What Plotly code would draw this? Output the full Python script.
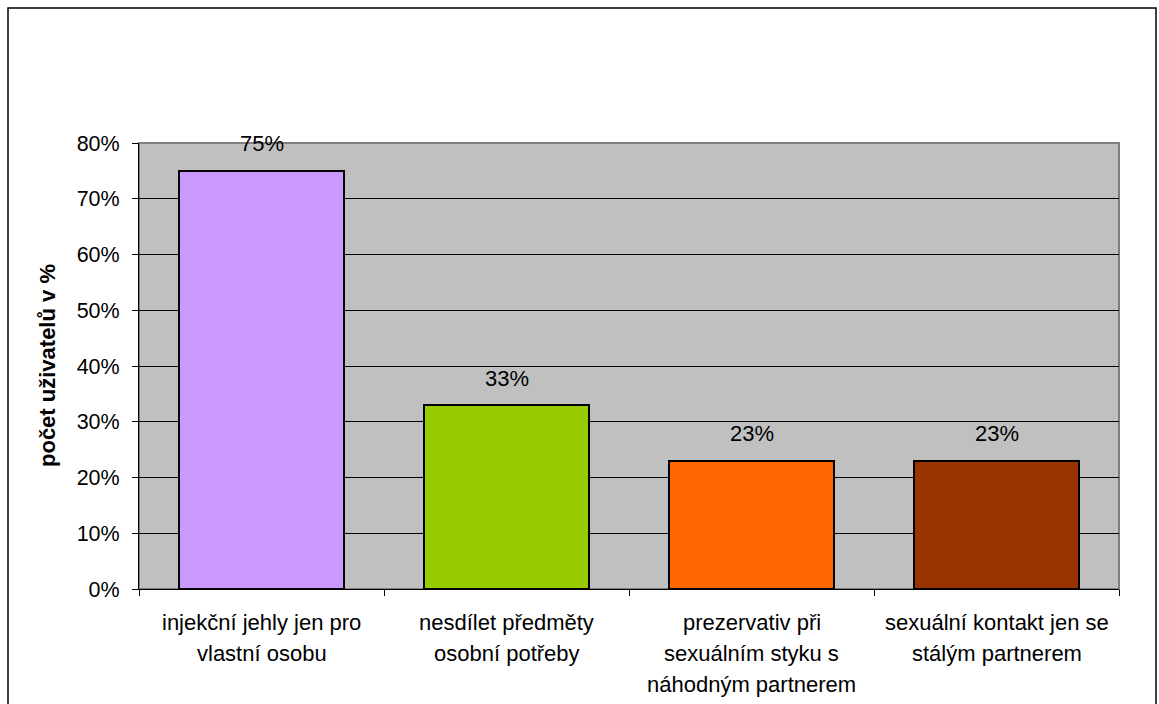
import plotly.graph_objects as go

# Survey results: share of users following each safe practice
categories = [
    "injekční jehly jen pro|vlastní osobu",
    "nesdílet předměty|osobní potřeby",
    "prezervativ při|sexuálním styku s|náhodným partnerem",
    "sexuální kontakt jen se|stálým partnerem",
]
values = [75, 33, 23, 23]
bar_colors = ["#CC99FF", "#99CC00", "#FF6600", "#993300"]
y_ticks = [0, 10, 20, 30, 40, 50, 60, 70, 80]
y_title = "počet uživatelů v %"

W, H = 1159, 704
L, R, T, B = 139, 40, 143, 115
pw, ph = W - L - R, H - T - B
FONT = "Liberation Sans, Arial, sans-serif"
FS = 22

xs = list(range(len(values)))

fig = go.Figure()
fig.add_trace(go.Bar(
    x=xs, y=values, width=0.67,
    marker=dict(color=bar_colors, line=dict(color="black", width=2)),
    hoverinfo="skip",
))

annotations = []
# value labels above bars
for x, v in zip(xs, values):
    annotations.append(dict(
        x=x, y=v, xref="x", yref="y", text=f"{v}%", showarrow=False,
        yanchor="middle", yshift=27, font=dict(family=FONT, size=FS, color="black"),
    ))
# category labels, one line per annotation for wider line spacing
for x, cat in zip(xs, categories):
    for i, line in enumerate(cat.split("|")):
        annotations.append(dict(
            x=x, y=0, xref="x", yref="paper", text=line, showarrow=False,
            yanchor="middle", yshift=-33 - 31 * i,
            font=dict(family=FONT, size=FS, color="black"),
        ))
# rotated axis title
annotations.append(dict(
    x=(47 - L) / pw, y=0.5, xref="paper", yref="paper", text=f"<b>{y_title}</b>",
    textangle=-90, showarrow=False, xanchor="center", yanchor="middle",
    font=dict(family=FONT, size=22, color="black"),
))

shapes = [
    # gray plot-area border
    dict(type="rect", xref="paper", yref="paper", x0=0, y0=0, x1=1, y1=1,
         line=dict(color="#808080", width=2), layer="below"),
    # outer frame around the whole chart
    dict(type="rect", xref="paper", yref="paper",
         x0=(8 - L) / pw, x1=(1156 - L) / pw,
         y0=(H - 720 - B) / ph, y1=(H - 8 - B) / ph,
         line=dict(color="black", width=1.5)),
]

fig.update_layout(
    width=W, height=H,
    margin=dict(l=L, r=R, t=T, b=B, pad=0),
    paper_bgcolor="white", plot_bgcolor="#C0C0C0",
    showlegend=False, bargap=0,
    font=dict(family=FONT, size=FS, color="black"),
    annotations=annotations, shapes=shapes,
    xaxis=dict(
        range=[-0.5, len(values) - 0.5], tickvals=[i - 0.5 for i in range(len(values) + 1)],
        showticklabels=False, ticks="outside", ticklen=6, tickcolor="black",
        showgrid=False, zeroline=False, showline=True, linecolor="black", linewidth=1,
        fixedrange=True,
    ),
    yaxis=dict(
        range=[0, 80], tickvals=y_ticks, ticktext=[f"{t}%" for t in y_ticks],
        ticks="outside", ticklen=6, tickcolor="black", ticklabelstandoff=8,
        showgrid=True, gridcolor="black", gridwidth=1, zeroline=False,
        showline=True, linecolor="black", linewidth=1,
        tickfont=dict(family=FONT, size=21.5, color="black"), fixedrange=True,
    ),
)

fig.write_html("out.html", config={"displayModeBar": False})
